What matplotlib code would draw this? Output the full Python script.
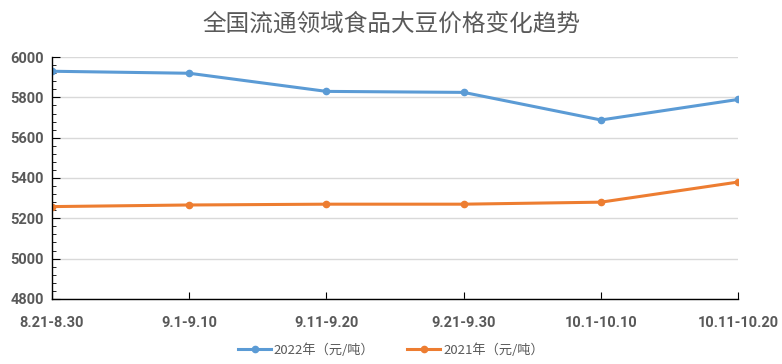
import numpy as np
import matplotlib.pyplot as plt
from matplotlib.ticker import MultipleLocator

plt.rcParams['font.family'] = ['Noto Sans CJK SC', 'DejaVu Sans']

periods = ['8.21-8.30', '9.1-9.10', '9.11-9.20', '9.21-9.30', '10.1-10.10', '10.11-10.20']
price_2022 = [5930, 5920, 5830, 5825, 5688, 5790]
price_2021 = [5258, 5266, 5270, 5270, 5280, 5380]

fig = plt.figure(figsize=(7.82, 3.64), dpi=100)
ax = fig.add_axes([0.0665, 0.179, 0.8775, 0.664])

x = np.arange(len(periods))
ax.plot(x, price_2022, '-o', color='#5b9bd5', lw=2.2, ms=4.5, label='2022年（元/吨）')
ax.plot(x, price_2021, '-o', color='#ed7d31', lw=2.2, ms=4.5, label='2021年（元/吨）')

ax.set_xlim(0, len(periods) - 1)
ax.set_ylim(4800, 6000)
ax.yaxis.set_major_locator(MultipleLocator(200))
ax.yaxis.set_minor_locator(MultipleLocator(40))
ax.grid(axis='y', color='#d9d9d9', lw=1)
ax.set_axisbelow(True)

ax.set_xticks(x)
ax.set_xticklabels(periods)
for s in ['top', 'right']:
    ax.spines[s].set_visible(False)
for s in ['left', 'bottom']:
    ax.spines[s].set_color('black')
    ax.spines[s].set_linewidth(1)
ax.tick_params(axis='y', which='major', direction='in', length=6, labelsize=10.5, labelcolor='#595959', pad=6)
ax.tick_params(axis='y', which='minor', direction='in', length=3)
ax.tick_params(axis='x', direction='in', length=5, labelsize=10.5, labelcolor='#595959', pad=12)
for lab in ax.get_xticklabels() + ax.get_yticklabels():
    lab.set_fontweight('bold')
    lab.set_family(['Roboto', 'DejaVu Sans'])

fig.text(0.5, 0.935, '全国流通领域食品大豆价格变化趋势', ha='center', va='center',
         fontsize=17, color='#595959')

ax.legend(loc='center', bbox_to_anchor=(0.5, 0.038), bbox_transform=fig.transFigure,
          ncol=2, frameon=False, fontsize=9.5, handlelength=2.5, handletextpad=0.2,
          columnspacing=2.5, labelcolor='#595959')

fig.savefig('out.png', dpi=100)
